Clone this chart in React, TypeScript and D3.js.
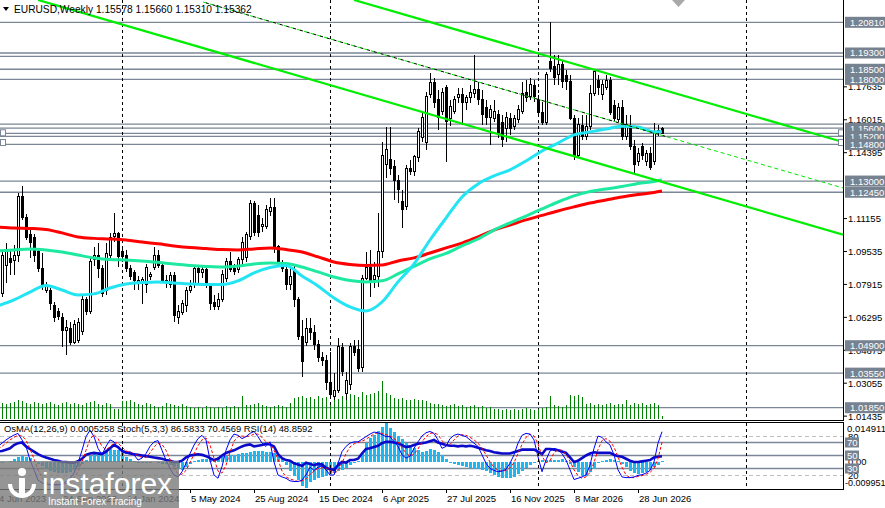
import { useEffect, useRef } from 'react';
import { curveMonotoneX, line, range, scaleLinear, select } from 'd3';

const WIDTH = 885;
const HEIGHT = 508;
const PLOT_RIGHT = 843;
const MAIN_BOTTOM = 420;
const IND_TOP = 423;
const IND_BOTTOM = 488;
const FONT = "'Liberation Sans', Arial, sans-serif";

// weekly bars [open, high, low, close], bar 0 = week of 4 Jun 2023
const CANDLES: [number, number, number, number][] = [
  [1.0715, 1.0789, 1.0666, 1.0764], [1.0749, 1.0956, 1.073, 1.0936], [1.0887, 1.0995, 1.0799, 1.0951],
  [1.0917, 1.0961, 1.0838, 1.0897], [1.0907, 1.0986, 1.0838, 1.0936], [1.0936, 1.1241, 1.0902, 1.1222],
  [1.1222, 1.1276, 1.1109, 1.1123], [1.1123, 1.1138, 1.101, 1.102], [1.1035, 1.1059, 1.0922, 1.1],
  [1.102, 1.104, 1.0902, 1.0936], [1.0951, 1.0961, 1.0853, 1.0872], [1.0872, 1.0946, 1.0764, 1.0779],
  [1.0764, 1.0804, 1.0749, 1.0779], [1.0764, 1.0774, 1.0666, 1.07], [1.069, 1.0705, 1.0607, 1.0631],
  [1.0656, 1.0676, 1.0617, 1.0636], [1.0631, 1.0651, 1.0484, 1.0567], [1.0567, 1.0617, 1.0444, 1.0582],
  [1.0577, 1.0607, 1.0494, 1.0508], [1.0508, 1.0617, 1.0499, 1.0592], [1.0518, 1.0626, 1.0503, 1.0602],
  [1.0558, 1.074, 1.0543, 1.0715], [1.0715, 1.073, 1.0641, 1.0656], [1.0656, 1.0922, 1.0646, 1.0902],
  [1.0912, 1.0976, 1.0882, 1.0936], [1.0936, 1.0995, 1.0823, 1.0872], [1.0872, 1.0887, 1.073, 1.0749],
  [1.0764, 1.0995, 1.074, 1.0946], [1.0936, 1.1045, 1.0912, 1.102], [1.1025, 1.1143, 1.1, 1.104],
  [1.104, 1.105, 1.0877, 1.0927], [1.0951, 1.0971, 1.0902, 1.0927], [1.0936, 1.0961, 1.0853, 1.0872],
  [1.0872, 1.0887, 1.0813, 1.0828], [1.0848, 1.0863, 1.0764, 1.0813], [1.0799, 1.0833, 1.0764, 1.0813],
  [1.0799, 1.0828, 1.0695, 1.0818], [1.0789, 1.0892, 1.0749, 1.0877], [1.0828, 1.0853, 1.0813, 1.0838],
  [1.0877, 1.0976, 1.0863, 1.0936], [1.0936, 1.0961, 1.0872, 1.0887], [1.0887, 1.0902, 1.0799, 1.0813],
  [1.0813, 1.0838, 1.0774, 1.0799], [1.0789, 1.0853, 1.0774, 1.0833], [1.0833, 1.0853, 1.0607, 1.0641],
  [1.0631, 1.069, 1.0597, 1.0656], [1.0651, 1.0715, 1.0641, 1.07], [1.069, 1.0779, 1.0656, 1.0764],
  [1.0764, 1.0813, 1.0749, 1.0779], [1.0789, 1.0887, 1.0774, 1.0872], [1.0872, 1.0887, 1.0799, 1.0848],
  [1.0848, 1.0882, 1.0823, 1.0863], [1.0863, 1.0872, 1.0774, 1.0789], [1.0789, 1.0799, 1.0666, 1.07],
  [1.0705, 1.074, 1.0666, 1.0681], [1.0681, 1.0749, 1.0666, 1.0715], [1.0715, 1.0863, 1.0705, 1.0838],
  [1.0823, 1.0922, 1.0804, 1.0902], [1.0902, 1.0951, 1.0853, 1.0863], [1.0872, 1.0892, 1.0838, 1.0853],
  [1.0863, 1.0927, 1.0848, 1.0912], [1.0912, 1.1025, 1.0887, 1.1], [1.0922, 1.105, 1.0902, 1.1035],
  [1.1025, 1.1207, 1.101, 1.1192], [1.1192, 1.1202, 1.103, 1.1045], [1.1133, 1.1182, 1.1025, 1.1045],
  [1.1074, 1.1118, 1.105, 1.1084], [1.1074, 1.1182, 1.1064, 1.1158], [1.1148, 1.1217, 1.1128, 1.1168],
  [1.1168, 1.1217, 1.0946, 1.0976], [1.0976, 1.0986, 1.0882, 1.0902], [1.0892, 1.0912, 1.0853, 1.0872],
  [1.0863, 1.0887, 1.0764, 1.0789], [1.0789, 1.0872, 1.0764, 1.0828], [1.0863, 1.0882, 1.0681, 1.0715],
  [1.0715, 1.073, 1.0518, 1.0533], [1.0533, 1.0617, 1.0336, 1.041], [1.0508, 1.0626, 1.0489, 1.0577],
  [1.0577, 1.0626, 1.0518, 1.0553], [1.0553, 1.0592, 1.0469, 1.0494], [1.0494, 1.0518, 1.041, 1.043],
  [1.043, 1.0459, 1.039, 1.0415], [1.0415, 1.0444, 1.0272, 1.0307], [1.0307, 1.0459, 1.0233, 1.0248],
  [1.0238, 1.0356, 1.0223, 1.0272], [1.0272, 1.0528, 1.0257, 1.0484], [1.0479, 1.0503, 1.0341, 1.0361],
  [1.0257, 1.0361, 1.0223, 1.0321], [1.0297, 1.0503, 1.0272, 1.0484], [1.0484, 1.0518, 1.0439, 1.0459],
  [1.0469, 1.0518, 1.0361, 1.038], [1.0385, 1.0838, 1.0361, 1.0823], [1.0823, 1.0951, 1.0813, 1.0877],
  [1.0877, 1.0961, 1.073, 1.0813], [1.0818, 1.0902, 1.0774, 1.0833], [1.0828, 1.1143, 1.0779, 1.0951],
  [1.0951, 1.1492, 1.0922, 1.1428], [1.1379, 1.1566, 1.1315, 1.1453], [1.1404, 1.1566, 1.133, 1.1364],
  [1.1374, 1.1404, 1.1207, 1.1305], [1.1305, 1.133, 1.1192, 1.1256], [1.1197, 1.1256, 1.1069, 1.1158],
  [1.1173, 1.1379, 1.1158, 1.1364], [1.1364, 1.1404, 1.133, 1.1345], [1.1345, 1.1428, 1.1325, 1.1419],
  [1.1414, 1.1561, 1.1394, 1.1542], [1.1512, 1.1635, 1.1492, 1.1615], [1.1492, 1.1738, 1.1453, 1.1714],
  [1.1724, 1.1832, 1.1709, 1.1783], [1.1783, 1.1807, 1.166, 1.1684], [1.1699, 1.1748, 1.1551, 1.1615],
  [1.164, 1.1758, 1.1625, 1.1738], [1.1758, 1.1773, 1.1394, 1.1591], [1.161, 1.1699, 1.1571, 1.1665],
  [1.164, 1.1719, 1.163, 1.1699], [1.1709, 1.1758, 1.1684, 1.1724], [1.1724, 1.1758, 1.1576, 1.1684],
  [1.1684, 1.1724, 1.165, 1.1709], [1.1709, 1.1773, 1.1684, 1.1738], [1.1733, 1.192, 1.1709, 1.1748],
  [1.1748, 1.1788, 1.1674, 1.1699], [1.1699, 1.1748, 1.1576, 1.1625], [1.166, 1.1699, 1.1576, 1.1615],
  [1.1615, 1.1674, 1.1478, 1.165], [1.161, 1.1699, 1.1591, 1.164], [1.1625, 1.165, 1.1512, 1.1537],
  [1.1586, 1.1625, 1.1468, 1.1502], [1.1561, 1.164, 1.1492, 1.1615], [1.161, 1.1635, 1.1527, 1.1561],
  [1.1566, 1.1625, 1.1551, 1.161], [1.1601, 1.1674, 1.1586, 1.165], [1.164, 1.1788, 1.163, 1.1733],
  [1.1738, 1.1797, 1.1689, 1.1709], [1.1714, 1.1807, 1.1699, 1.1773], [1.1768, 1.1797, 1.1689, 1.1714],
  [1.1699, 1.1724, 1.1625, 1.1635], [1.1635, 1.1689, 1.1576, 1.1586], [1.1586, 1.1837, 1.1576, 1.1822],
  [1.1886, 1.2083, 1.1837, 1.1856], [1.1866, 1.192, 1.1773, 1.1807], [1.1822, 1.192, 1.1773, 1.1871],
  [1.1871, 1.1896, 1.1758, 1.1788], [1.1817, 1.1847, 1.1748, 1.1788], [1.1788, 1.1822, 1.1601, 1.161],
  [1.161, 1.1625, 1.1404, 1.1419], [1.1428, 1.161, 1.1414, 1.1576], [1.1571, 1.1625, 1.1502, 1.1517],
  [1.1517, 1.1625, 1.1502, 1.1566], [1.1566, 1.1773, 1.1551, 1.1733], [1.1733, 1.1847, 1.1719, 1.1837],
  [1.1797, 1.1822, 1.1724, 1.1758], [1.1724, 1.1797, 1.1699, 1.1773], [1.1758, 1.1822, 1.1748, 1.1797],
  [1.1797, 1.1812, 1.1625, 1.1635], [1.1674, 1.1699, 1.1596, 1.161], [1.1601, 1.1684, 1.1591, 1.166],
  [1.166, 1.1699, 1.1502, 1.1517], [1.1517, 1.1625, 1.1502, 1.1576], [1.1561, 1.1625, 1.1453, 1.1468],
  [1.1468, 1.1502, 1.133, 1.1379], [1.1394, 1.1463, 1.1374, 1.1438], [1.1468, 1.1487, 1.1404, 1.1428],
  [1.1394, 1.1453, 1.1374, 1.1438], [1.1438, 1.1468, 1.1355, 1.1369], [1.1394, 1.1586, 1.1379, 1.1537],
  [1.1537, 1.1576, 1.1522, 1.1551], [1.15578, 1.1566, 1.1531, 1.15362],
];

// tick volume, thousands
const VOLUME = [
  15, 16, 15, 16, 17, 20, 18, 16, 15, 17, 16, 15, 16, 17, 15, 14, 16, 17, 15, 16,
  15, 14, 16, 17, 18, 15, 14, 16, 15, 10, 10, 18, 18, 19, 17, 15, 14, 16, 15, 13,
  12, 13, 16, 15, 14, 13, 15, 13, 12, 11, 12, 11, 13, 12, 11, 12, 11, 13, 12, 13,
  12, 24, 14, 14, 15, 16, 14, 13, 12, 13, 14, 13, 12, 16, 22, 23, 24, 22, 23, 21,
  24, 22, 23, 14, 20, 21, 24, 22, 26, 25, 23, 28, 25, 26, 27, 29, 39, 27, 25, 22,
  21, 22, 20, 19, 21, 20, 19, 18, 16, 15, 15, 14, 13, 14, 15, 13, 14, 12, 13, 14,
  12, 13, 11, 12, 10, 10, 9, 10, 9, 10, 9, 10, 11, 10, 9, 10, 11, 12, 24, 14,
  13, 12, 14, 25, 24, 25, 23, 15, 16, 14, 15, 14, 15, 16, 14, 15, 15, 19, 14, 16,
  15, 16, 14, 15, 16, 14, 3,
];

// moving averages, read every 4th bar
const MA_IDX = range(0, 165, 4).concat([166]);
const MA_RED = [
  1.1074, 1.1069, 1.1067, 1.1062, 1.1045, 1.1025, 1.1018, 1.1015, 1.101, 1.1, 1.0991,
  1.0981, 1.0973, 1.0968, 1.0963, 1.0961, 1.0966, 1.0971, 1.0963, 1.0951, 1.0927, 1.0902,
  1.089, 1.0885, 1.0887, 1.0907, 1.0922, 1.0946, 1.0971, 1.0995, 1.1025, 1.1059, 1.1084,
  1.1109, 1.1131, 1.1153, 1.1173, 1.1192, 1.1207, 1.1222, 1.1234, 1.1244, 1.1251,
];
const MA_GREEN = [
  1.0956, 1.0961, 1.0966, 1.0961, 1.0951, 1.0936, 1.0922, 1.0914, 1.0912, 1.0907, 1.09,
  1.0892, 1.0885, 1.088, 1.0877, 1.0882, 1.0892, 1.0897, 1.0895, 1.0877, 1.0853, 1.0828,
  1.0811, 1.0804, 1.0809, 1.0843, 1.088, 1.0917, 1.0944, 1.0981, 1.1015, 1.1059, 1.1094,
  1.1128, 1.1163, 1.1197, 1.1227, 1.1249, 1.1261, 1.1273, 1.1288, 1.1298, 1.1305,
];
const MA_CYAN = [
  1.0686, 1.0715, 1.0754, 1.0786, 1.0764, 1.074, 1.0745, 1.0774, 1.0794, 1.0801, 1.0804,
  1.0799, 1.0794, 1.0791, 1.0791, 1.0809, 1.0848, 1.0875, 1.0885, 1.0833, 1.0784, 1.0725,
  1.0681, 1.0661, 1.0705, 1.0804, 1.0892, 1.101, 1.1118, 1.1222, 1.1286, 1.1325, 1.1355,
  1.1399, 1.1448, 1.1487, 1.1527, 1.1542, 1.1556, 1.1569, 1.1566, 1.1542, 1.1542,
];

// OsMA(12,26,9) in units of 0.0001
const OSMA = [
  -8, -4, 0, 5, 12, 18, 22, 20, 14, 5, -6, -16, -26, -34, -40, -43, -44, -42, -38, -30,
  -20, -8, 8, 22, 34, 38, 40, 44, 48, 47, 45, 40, 20, 10, 2, -2, -3, -4, -2, 0,
  -3, -6, -9, -12, -20, -28, -30, -20, -6, 4, 8, 10, 12, 12, 13, 18, 22, 24, 26, 28,
  30, 33, 35, 40, 43, 43, 42, 40, 38, 36, 22, 12, -10, -35, -55, -70, -90, -99.51, -75, -69,
  -63, -58, -52, -46, -42, -36, -30, -24, -12, -4, 4, 30, 72, 92, 105, 120, 132, 149.11, 130, 114,
  100, 86, 74, 66, 55, 45, 40, 42, 48, 47, 38, 27, 10, -5, -8, -13, -17, -20, -24, -25,
  -27, -30, -36, -44, -50, -57, -61, -62, -62, -56, -45, -33, -22, -11, -5, 4, 7, 6, 8, 8,
  9, 10, 4, -6, -20, -38, -52, -52, -40, -26, -4, 5, 8, 10, 8, 2, -8, -20, -33, -43,
  -46, -44, -38, -30, -20, -10, 5.258,
];
const STOCH_MAIN = [
  64, 69, 74, 78, 81.5, 84, 74, 64, 43, 28, 12, 8, 6, 5, 5, 5, 6, 10, 15, 23,
  38, 58, 79, 89, 79, 61, 51, 64, 74, 71, 61, 56, 53, 56, 51, 43, 46, 53, 64, 71,
  73, 58, 43, 30, 20, 17, 25, 38, 53, 66, 76, 81, 74, 43, 20, 15, 33, 58, 74, 83,
  81, 76, 79, 84, 87, 79, 69, 64, 71, 40, 20, 17, 15, 11, 10, 10, 12, 20, 32, 27,
  32, 34, 28, 20, 20, 38, 56, 64, 69, 71, 71, 75, 79, 83, 86, 85, 82, 79, 79, 71,
  64, 51, 46, 49, 61, 71, 80, 85, 87, 84, 74, 61, 64, 76, 81, 83, 81, 79, 74, 69,
  64, 51, 38, 30, 27, 25, 26, 29, 38, 51, 69, 81, 84, 83, 74, 48, 25, 43, 57, 61,
  59, 53, 43, 28, 13, 15, 17, 20, 35, 61, 80, 78, 71, 66, 51, 28, 17, 16, 16, 17,
  19.5, 20.5, 23, 27, 40, 69, 86.5833,
];
const STOCH_SIGNAL = [
  60, 64, 69, 74, 78, 81, 80, 74, 60, 45, 28, 16, 9, 6, 5, 5, 5, 7, 10, 16,
  25, 40, 58, 75, 82, 76, 64, 59, 63, 70, 69, 63, 57, 55, 53, 50, 47, 47, 54, 63,
  69, 67, 58, 44, 31, 22, 21, 27, 39, 52, 65, 74, 77, 66, 46, 26, 23, 35, 55, 72,
  79, 80, 79, 80, 83, 83, 78, 71, 68, 58, 44, 26, 17, 14, 12, 10, 11, 14, 21, 26,
  30, 31, 31, 27, 23, 26, 38, 53, 63, 68, 70, 72, 75, 79, 83, 85, 84, 82, 80, 76,
  71, 62, 54, 49, 52, 60, 71, 79, 84, 85, 82, 73, 66, 67, 74, 80, 82, 81, 78, 74,
  69, 61, 51, 40, 32, 27, 26, 27, 31, 39, 53, 67, 78, 83, 80, 68, 49, 39, 42, 54,
  59, 58, 52, 41, 28, 19, 15, 17, 24, 39, 59, 73, 76, 72, 63, 48, 32, 20, 16, 16,
  18, 19, 21, 24, 30, 45, 70.4569,
];
const RSI = [
  56, 57, 59, 61, 66, 69, 70, 64, 60, 56, 52, 49, 47, 45, 43, 42, 40, 40, 39, 39,
  41, 45, 51, 53, 54, 53, 52, 56, 61, 66, 63, 57, 55, 53, 52, 51, 50, 49, 48, 47,
  46, 45, 43, 42, 40, 40, 42, 47, 50, 51, 52, 51, 49, 46, 43, 45, 50, 54, 56, 58,
  61, 64, 66, 67, 64, 65, 66, 68, 67, 64, 52, 46, 43, 42, 38, 36, 34, 39, 37, 35,
  37, 36, 31, 29, 28, 35, 40, 39, 43, 43, 45, 53, 60, 61, 63, 65, 69, 71, 71, 70,
  69, 66, 63, 64, 66, 68, 69, 70, 72, 74, 70, 68, 66, 65, 65, 64, 65, 64, 65, 64,
  62, 60, 58, 57, 55, 54, 53, 53, 53, 55, 57, 59, 59, 59, 59, 56, 52, 60, 60, 59,
  58, 56, 54, 47, 40, 42, 46, 50, 53, 55, 54, 54, 54, 54, 51, 49, 48, 45, 42, 40,
  40, 41, 42, 43, 47, 48, 48.8592,
];

// horizontal lines and their price boxes
const LEVELS = [1.2081, 1.193, 1.1913, 1.185, 1.18, 1.158, 1.156, 1.1535, 1.152, 1.148, 1.13, 1.1245, 1.049, 1.0355, 1.0185];
const LEVEL_LABELS = [1.2081, 1.193, 1.185, 1.18, 1.156, 1.152, 1.148, 1.13, 1.1245, 1.049, 1.0355, 1.0185];
// scale ticks that are not fully hidden behind the boxes
const PRICE_TICKS = [1.17635, 1.16015, 1.14395, 1.11155, 1.09535, 1.07915, 1.06295, 1.04675, 1.03055, 1.01435];

// trendlines: [bar index, price] pairs
const TREND_LOWER: [number, number][] = [[10, 1.2191], [211.25, 1.1036]];
const TREND_UPPER: [number, number][] = [[89, 1.2191], [211.25, 1.1492]];
const TREND_DOTTED: [number, number][] = [[51.25, 1.2181], [211.25, 1.1266]];

const DATE_IDX = [0, 16, 32, 48, 64, 80, 96, 112, 128, 144, 160];
const DATE_LABELS = ['4 Jun 2023', '24 Sep 2023', '14 Jan 2024', '5 May 2024', '25 Aug 2024', '15 Dec 2024', '6 Apr 2025', '27 Jul 2025', '16 Nov 2025', '8 Mar 2026', '28 Jun 2026'];
const SEPARATOR_IDX = [31, 83, 135, 187];

export default function App() {
  const svgRef = useRef<SVGSVGElement>(null);

  useEffect(() => {
    document.body.style.margin = '0';
    const el = svgRef.current;
    if (!el) return;
    const svg = select(el);
    svg.selectAll('*').remove();

    const x = scaleLinear().domain([0, 166]).range([-2, 662]);
    const y = scaleLinear().domain([1.01245, 1.21907]).range([MAIN_BOTTOM, 0]);
    const yVol = scaleLinear().domain([0, 40]).range([419, 380]);
    const yPct = scaleLinear().domain([0, 100]).range([IND_BOTTOM, IND_TOP]);
    const yOsma = scaleLinear().domain([-99.51, 149.11]).range([IND_BOTTOM, IND_TOP]);

    svg.append('rect').attr('width', WIDTH).attr('height', HEIGHT).attr('fill', '#fff');

    const defs = svg.append('defs');
    defs.append('clipPath').attr('id', 'mainClip').append('rect').attr('width', PLOT_RIGHT).attr('height', MAIN_BOTTOM);
    defs.append('clipPath').attr('id', 'indClip').append('rect').attr('y', IND_TOP - 1).attr('width', PLOT_RIGHT).attr('height', IND_BOTTOM - IND_TOP + 2);

    // main window
    const main = svg.append('g').attr('clip-path', 'url(#mainClip)');

    main.append('g').selectAll('line').data(LEVELS).join('line')
      .attr('x1', 0).attr('x2', PLOT_RIGHT)
      .attr('y1', (d) => y(d)).attr('y2', (d) => y(d))
      .attr('stroke', '#7b8696').attr('stroke-width', 1.3);

    main.append('g').selectAll('line').data(SEPARATOR_IDX).join('line')
      .attr('x1', (d) => x(d) + 0.5).attr('x2', (d) => x(d) + 0.5)
      .attr('y1', 0).attr('y2', MAIN_BOTTOM)
      .attr('stroke', '#000').attr('stroke-dasharray', '3,3');

    main.append('g').attr('shape-rendering', 'crispEdges')
      .selectAll('line').data(VOLUME).join('line')
      .attr('x1', (_, i) => x(i) + 0.5).attr('x2', (_, i) => x(i) + 0.5)
      .attr('y1', 419).attr('y2', (d) => yVol(d))
      .attr('stroke', '#008000');

    const bars = main.append('g').attr('shape-rendering', 'crispEdges');
    CANDLES.forEach(([o, h, l, c], i) => {
      const cx = Math.round(x(i));
      bars.append('line')
        .attr('x1', cx + 0.5).attr('x2', cx + 0.5)
        .attr('y1', y(h)).attr('y2', y(l))
        .attr('stroke', '#000');
      const top = y(Math.max(o, c));
      const bottom = y(Math.min(o, c));
      bars.append('rect')
        .attr('x', cx - 0.5).attr('y', top)
        .attr('width', 2).attr('height', Math.max(bottom - top, 1))
        .attr('fill', c >= o ? '#fff' : '#000')
        .attr('stroke', '#000');
    });

    const maLine = line<number>()
      .x((_, k) => x(MA_IDX[k]))
      .y((d) => y(d))
      .curve(curveMonotoneX);
    [
      [MA_RED, '#ff0000'],
      [MA_GREEN, '#1de9a0'],
      [MA_CYAN, '#22e4f2'],
    ].forEach(([data, color]) => {
      main.append('path')
        .attr('d', maLine(data as number[]))
        .attr('fill', 'none')
        .attr('stroke', color as string)
        .attr('stroke-width', 3);
    });

    const trend = line<[number, number]>().x((d) => x(d[0])).y((d) => y(d[1]));
    [TREND_LOWER, TREND_UPPER].forEach((t) => {
      main.append('path').attr('d', trend(t)).attr('stroke', '#00ee00').attr('stroke-width', 2.2).attr('fill', 'none');
    });
    main.append('path').attr('d', trend(TREND_DOTTED))
      .attr('stroke', '#00e600').attr('stroke-width', 1).attr('stroke-dasharray', '4,3').attr('fill', 'none');
    const dotEnd = TREND_DOTTED[0][1] + ((166.75 - TREND_DOTTED[0][0]) / (TREND_DOTTED[1][0] - TREND_DOTTED[0][0])) * (TREND_DOTTED[1][1] - TREND_DOTTED[0][1]);
    main.append('path').attr('d', trend([TREND_DOTTED[0], [166.75, dotEnd]]))
      .attr('stroke', '#000').attr('stroke-width', 1).attr('stroke-dasharray', '3,4').attr('stroke-dashoffset', 4).attr('fill', 'none');

    // selected object anchors
    [[0, 1.1535], [0, 1.1487], [PLOT_RIGHT - 5, 1.1535], [PLOT_RIGHT - 5, 1.1487]].forEach(([px, p]) => {
      svg.append('rect').attr('x', px + 0.5).attr('y', y(p) - 3.5).attr('width', 5).attr('height', 6)
        .attr('fill', '#fff').attr('stroke', '#7b8696');
    });

    // chart shift marker
    svg.append('path').attr('d', 'M672,0 L685,0 L678.5,7 Z').attr('fill', '#a9a9a9');

    // indicator window
    const ind = svg.append('g').attr('clip-path', 'url(#indClip)');
    [80, 20].forEach((v) => {
      ind.append('line').attr('x1', 0).attr('x2', PLOT_RIGHT).attr('y1', yPct(v) + 0.5).attr('y2', yPct(v) + 0.5)
        .attr('stroke', '#c0c0c0').attr('stroke-dasharray', '4,3');
    });
    [70, 50, 30].forEach((v) => {
      ind.append('line').attr('x1', 0).attr('x2', PLOT_RIGHT).attr('y1', yPct(v)).attr('y2', yPct(v))
        .attr('stroke', '#7b8696').attr('stroke-width', 1.3);
    });
    ind.append('g').attr('shape-rendering', 'crispEdges')
      .selectAll('rect').data(OSMA).join('rect')
      .attr('x', (_, i) => Math.round(x(i)) - 1).attr('width', 3)
      .attr('y', (d) => Math.min(yOsma(d), yOsma(0)))
      .attr('height', (d) => Math.abs(yOsma(d) - yOsma(0)))
      .attr('fill', '#1cb8f2');
    const pctLine = line<number>().x((_, i) => x(i)).y((d) => yPct(d));
    ind.append('path').attr('d', pctLine(RSI)).attr('fill', 'none').attr('stroke', '#0a0ac8').attr('stroke-width', 2.6);
    ind.append('path').attr('d', pctLine(STOCH_SIGNAL)).attr('fill', 'none').attr('stroke', '#ff0000').attr('stroke-dasharray', '3,2');
    ind.append('path').attr('d', pctLine(STOCH_MAIN)).attr('fill', 'none').attr('stroke', '#0000ff');
    ind.append('g').selectAll('line').data(SEPARATOR_IDX).join('line')
      .attr('x1', (d) => x(d) + 0.5).attr('x2', (d) => x(d) + 0.5)
      .attr('y1', IND_TOP).attr('y2', IND_BOTTOM + 1)
      .attr('stroke', '#000').attr('stroke-dasharray', '3,3');

    // frames
    const frame = svg.append('g').attr('stroke', '#000').attr('shape-rendering', 'crispEdges');
    frame.append('line').attr('x1', PLOT_RIGHT + 0.5).attr('x2', PLOT_RIGHT + 0.5).attr('y1', 0).attr('y2', MAIN_BOTTOM + 1);
    frame.append('line').attr('x1', 0).attr('x2', PLOT_RIGHT + 1).attr('y1', MAIN_BOTTOM + 0.5).attr('y2', MAIN_BOTTOM + 0.5);
    frame.append('line').attr('x1', 0).attr('x2', PLOT_RIGHT + 1).attr('y1', IND_TOP - 0.5).attr('y2', IND_TOP - 0.5);
    frame.append('line').attr('x1', PLOT_RIGHT + 0.5).attr('x2', PLOT_RIGHT + 0.5).attr('y1', IND_TOP - 1).attr('y2', IND_BOTTOM + 1);
    frame.append('line').attr('x1', 0).attr('x2', PLOT_RIGHT + 1).attr('y1', IND_BOTTOM + 1.5).attr('y2', IND_BOTTOM + 1.5);

    const text = (tx: number, ty: number, s: string, size = 9.5, fill = '#000') =>
      svg.append('text').attr('x', tx).attr('y', ty).attr('font-family', FONT).attr('font-size', size).attr('fill', fill).text(s);

    // price scale
    PRICE_TICKS.forEach((p) => {
      svg.append('line').attr('x1', PLOT_RIGHT).attr('x2', PLOT_RIGHT + 4).attr('y1', y(p)).attr('y2', y(p)).attr('stroke', '#000');
      text(848, y(p) + 3.5, p.toFixed(5));
    });
    LEVEL_LABELS.forEach((p) => {
      svg.append('rect').attr('x', 845).attr('y', y(p) - 5.5).attr('width', 40).attr('height', 11).attr('fill', '#778291');
      text(850, y(p) + 3.5, p.toFixed(5), 9.5, '#fff');
    });

    // indicator scale
    text(847, 431.5, '0.014911');
    text(848, yPct(80) + 3.5, '80');
    text(848, yOsma(0) + 3.5, '0.00');
    text(848, yPct(20) + 3.5, '20');
    text(845, 485.5, '-0.009951', 9);
    [70, 50, 30].forEach((v) => {
      svg.append('rect').attr('x', 845).attr('y', yPct(v) - 5).attr('width', 14).attr('height', 10).attr('fill', '#778291');
      text(847, yPct(v) + 3.5, String(v), 9.5, '#fff');
    });

    // time scale
    DATE_IDX.forEach((idx, k) => {
      const tx = x(idx);
      svg.append('line').attr('x1', tx + 0.5).attr('x2', tx + 0.5).attr('y1', IND_BOTTOM + 2).attr('y2', IND_BOTTOM + 5).attr('stroke', '#000');
      text(tx + 1, 502, DATE_LABELS[k]);
    });

    // headers
    svg.append('path').attr('d', 'M3,7 L9,7 L6,11 Z').attr('fill', '#000');
    text(14, 12.5, 'EURUSD,Weekly  1.15578 1.15660 1.15310 1.15362', 10.2);
    text(4, 431.5, 'OsMA(12,26,9) 0.0005258  Stoch(5,3,3) 86.5833 70.4569  RSI(14) 48.8592', 9.4);

    // watermark
    const wm = svg.append('g');
    wm.append('rect').attr('x', 0).attr('y', 461).attr('width', 179).attr('height', 47).attr('fill', '#7a7a7a').attr('opacity', 0.8);
    wm.append('circle').attr('cx', 22).attr('cy', 472).attr('r', 4).attr('fill', '#fff');
    wm.append('path').attr('d', 'M10,484 A12,12 0 1,0 34,484').attr('fill', 'none').attr('stroke', '#fff').attr('stroke-width', 4);
    wm.append('rect').attr('x', 19).attr('y', 478).attr('width', 6).attr('height', 16).attr('fill', '#fff');
    wm.append('text').attr('x', 42).attr('y', 494).attr('font-family', FONT).attr('font-size', 30).attr('fill', '#fff').text('instaforex');
    wm.append('text').attr('x', 48).attr('y', 505).attr('font-family', FONT).attr('font-size', 10).attr('fill', '#fff').text('Instant Forex Tracing');
  }, []);

  return <svg ref={svgRef} width={WIDTH} height={HEIGHT} style={{ display: 'block' }} />;
}
